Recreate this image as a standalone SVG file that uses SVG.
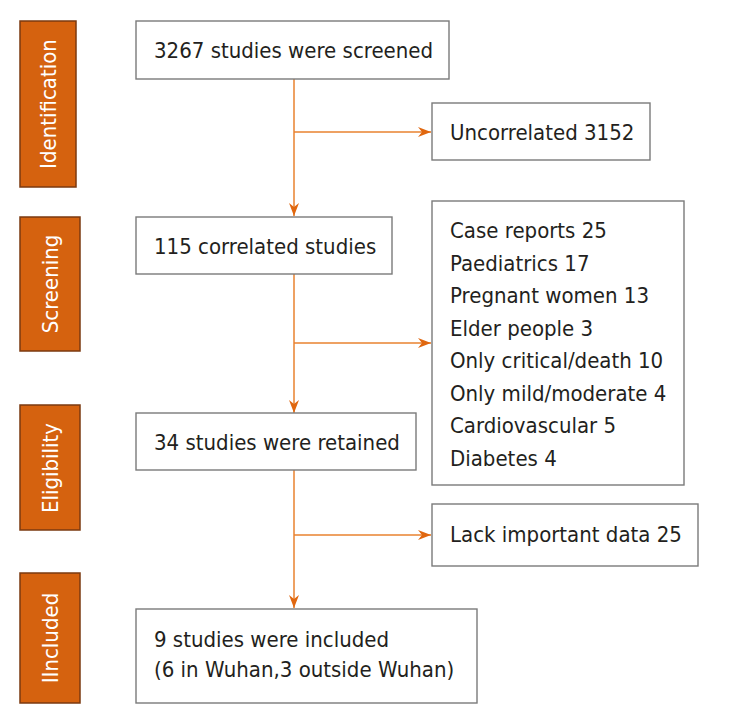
<svg xmlns="http://www.w3.org/2000/svg" width="730" height="723" viewBox="0 0 730 723">
<style>
.bar{fill:#D5620F;stroke:#7B3A10;stroke-width:1.5}
.lbl{fill:#ffffff;font-family:"DejaVu Sans Condensed","DejaVu Sans",sans-serif;font-size:22px;text-anchor:middle}
.box{fill:#ffffff;stroke:#7a7a7a;stroke-width:1.4}
.t{fill:#231F20;font-family:"DejaVu Sans Condensed","DejaVu Sans",sans-serif;font-size:22px}
.ln{fill:none;stroke:#E8822F;stroke-width:1.5}
</style>
<defs>
<marker id="ah" markerUnits="userSpaceOnUse" markerWidth="14" markerHeight="12" refX="13" refY="5" orient="auto">
<path d="M0,0 L13,5 L0,10 L4,5 Z" fill="#E0670F"/>
</marker>
</defs>
<rect width="730" height="723" fill="#ffffff"/>
<g id="stage-identification">
<rect class="bar" x="20" y="21" width="56" height="166"/>
<text class="lbl" transform="translate(56,104) rotate(-90)">Identification</text>
</g>
<g id="stage-screening">
<rect class="bar" x="20" y="217" width="60" height="134"/>
<text class="lbl" transform="translate(58,284) rotate(-90)">Screening</text>
</g>
<g id="stage-eligibility">
<rect class="bar" x="20" y="405" width="60" height="125"/>
<text class="lbl" transform="translate(58,468) rotate(-90)">Eligibility</text>
</g>
<g id="stage-included">
<rect class="bar" x="20" y="573" width="60" height="130"/>
<text class="lbl" transform="translate(58,638) rotate(-90)">IIncluded</text>
</g>
<g id="connectors">
<line class="ln" x1="294" y1="79" x2="294" y2="216" marker-end="url(#ah)"/>
<line class="ln" x1="294" y1="132" x2="431" y2="132" marker-end="url(#ah)"/>
<line class="ln" x1="294" y1="274" x2="294" y2="413" marker-end="url(#ah)"/>
<line class="ln" x1="294" y1="343" x2="431" y2="343" marker-end="url(#ah)"/>
<line class="ln" x1="294" y1="470" x2="294" y2="608" marker-end="url(#ah)"/>
<line class="ln" x1="294" y1="535" x2="431" y2="535" marker-end="url(#ah)"/>
</g>
<g id="screened">
<rect class="box" x="136" y="21" width="313" height="58"/>
<text class="t" x="154" y="58">3267 studies were screened</text>
</g>
<g id="uncorrelated">
<rect class="box" x="432" y="103" width="218" height="57"/>
<text class="t" x="450" y="140">Uncorrelated 3152</text>
</g>
<g id="correlated">
<rect class="box" x="136" y="217" width="256" height="57"/>
<text class="t" x="154" y="254">115 correlated studies</text>
</g>
<g id="excluded">
<rect class="box" x="432" y="201" width="252" height="284"/>
<text class="t" x="450" y="238">Case reports 25</text>
<text class="t" x="450" y="270.5">Paediatrics 17</text>
<text class="t" x="450" y="303">Pregnant women 13</text>
<text class="t" x="450" y="335.5">Elder people 3</text>
<text class="t" x="450" y="368">Only critical/death 10</text>
<text class="t" x="450" y="400.5">Only mild/moderate 4</text>
<text class="t" x="450" y="433">Cardiovascular 5</text>
<text class="t" x="450" y="465.5">Diabetes 4</text>
</g>
<g id="retained">
<rect class="box" x="136" y="413" width="280" height="57"/>
<text class="t" x="154" y="450">34 studies were retained</text>
</g>
<g id="lack-data">
<rect class="box" x="432" y="504" width="266" height="62"/>
<text class="t" x="450" y="542">Lack important data 25</text>
</g>
<g id="included">
<rect class="box" x="136" y="609" width="341" height="94"/>
<text class="t" x="154" y="647">9 studies were included</text>
<text class="t" x="154" y="677">(6 in Wuhan,3 outside Wuhan)</text>
</g>
</svg>
